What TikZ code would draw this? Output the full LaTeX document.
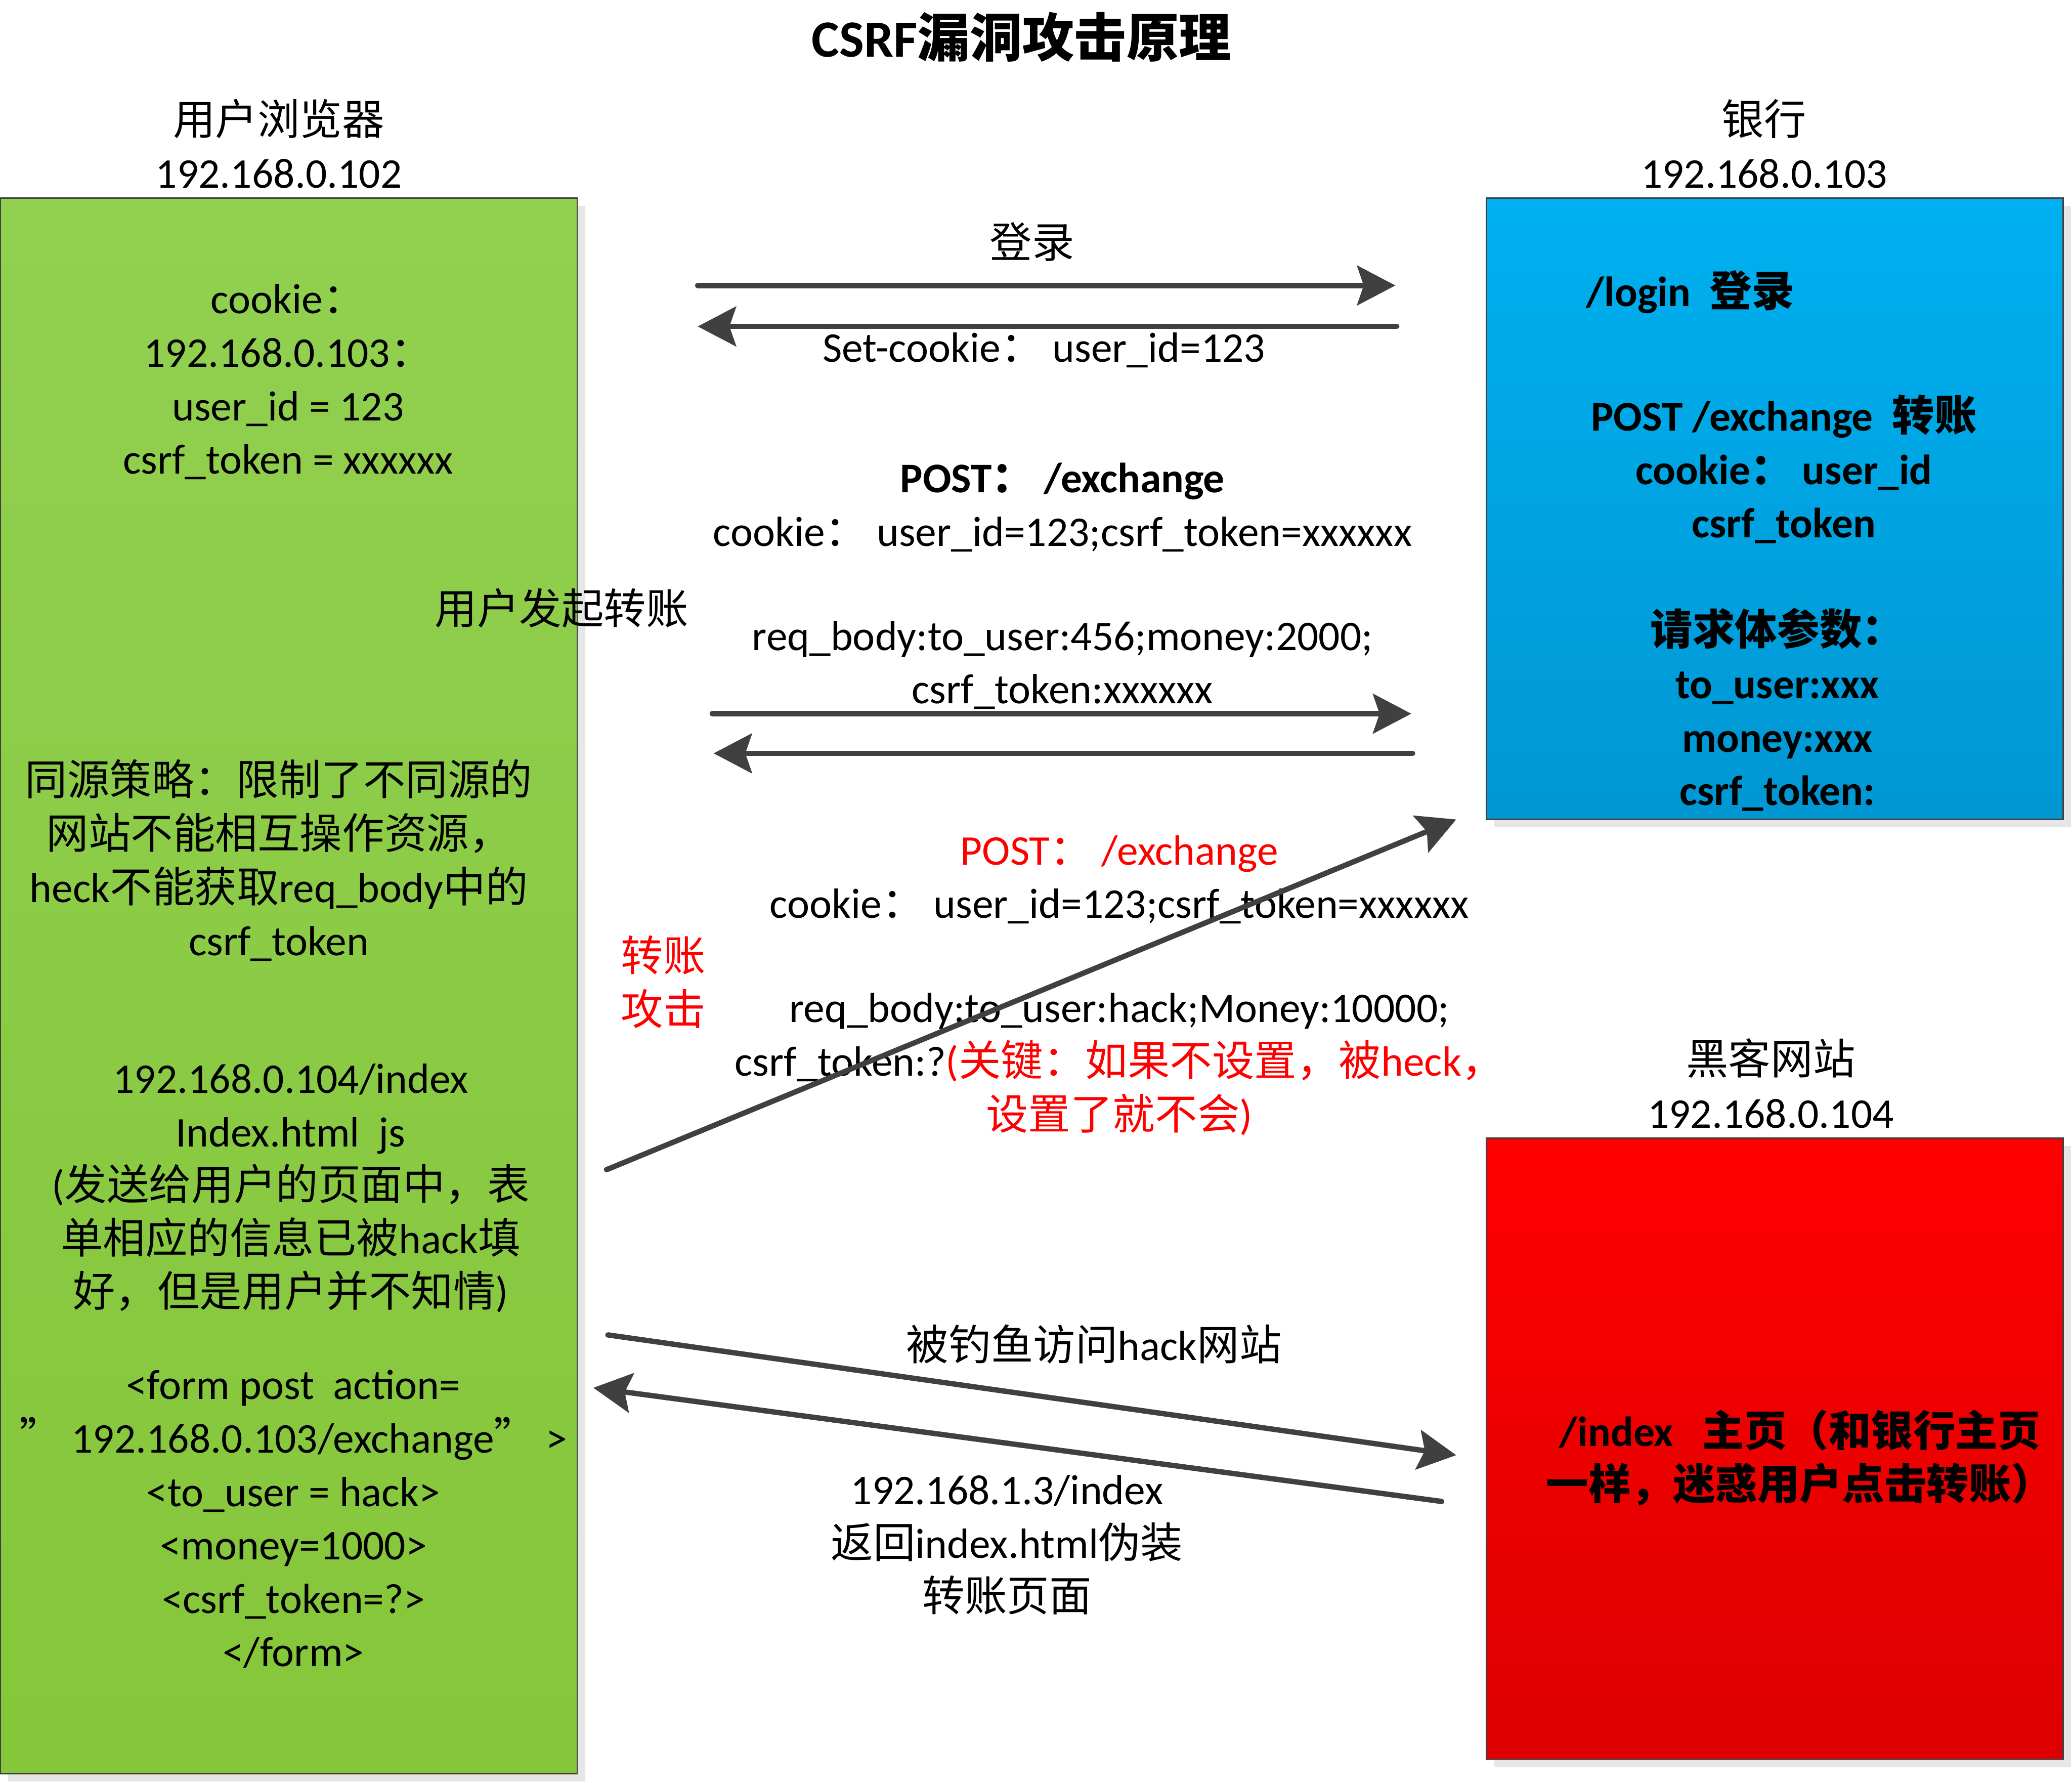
\documentclass[tikz,border=0pt]{standalone}
\usepackage{fontspec}
\setmainfont{Carlito}
\newfontfamily\cjk{Noto Sans CJK SC}
\newcommand{\zh}[1]{{\cjk #1}}
\usetikzlibrary{positioning, arrows.meta, shadows}
\definecolor{csrfGray}{HTML}{404040}
\definecolor{csrfRed}{HTML}{FF0000}
\definecolor{userTop}{HTML}{92D050}
\definecolor{userBot}{HTML}{85C63A}
\definecolor{bankTop}{HTML}{00B0F0}
\definecolor{bankBot}{HTML}{0097D3}
\definecolor{hackTop}{HTML}{FF0000}
\definecolor{hackBot}{HTML}{DC0000}
\definecolor{shadowGray}{HTML}{E6E6E6}

\begin{document}
\begin{tikzpicture}[
  every node/.style={font=\fontsize{18.2}{23}\selectfont, align=center, inner sep=0pt},
  hostbox/.style={
    rectangle, draw=csrfGray, line width=0.6pt,
    minimum width=8.73cm, minimum height=9.4cm,
    drop shadow={shadow xshift=0.12cm, shadow yshift=-0.12cm, fill=shadowGray, opacity=1}
  },
  boldtxt/.style={font=\fontsize{18.2}{23}\selectfont\bfseries},
  msg/.style={
    -{Stealth[length=0.58cm, width=0.6cm, inset=0.1cm]}, csrfGray, line width=2.3pt, line cap=round
  },
]
\useasboundingbox (0,0) rectangle (31.36,26.98);

% Hosts
\node[hostbox, minimum height=23.84cm, top color=userTop, bottom color=userBot] (browser) at (4.37,12.06) {};
\node[hostbox, top color=bankTop, bottom color=bankBot] (bank) at (26.86,19.28) {};
\node[hostbox, top color=hackTop, bottom color=hackBot] (hacker) at (26.86,5.06) {};

\node[font=\fontsize{22.5}{27}\selectfont\bfseries] (title) at (15.46,26.42) {CSRF\zh{漏洞攻击原理}};
\node[anchor=south] (browserlbl) at (4.22,24.12) {\zh{用户浏览器}\\192.168.0.102};
\node[anchor=south] (banklbl) at (26.7,24.12) {\zh{银行}\\192.168.0.103};
\node[anchor=south] (hackerlbl) at (26.8,9.9) {\zh{黑客网站}\\192.168.0.104};

% Browser contents
\node (cookiejar) at (4.36,21.2) {cookie\zh{：}\\192.168.0.103\zh{：}\\user\_id = 123\\csrf\_token = xxxxxx};
\node (sameorigin) at (4.22,13.96) {\zh{同源策略：限制了不同源的}\\\zh{网站不能相互操作资源，}\\heck\zh{不能获取}req\_body\zh{中的}\\csrf\_token};
\node (fakepage) at (4.4,9.0) {192.168.0.104/index\\Index.html\ \ js\\(\zh{发送给用户的页面中，表}\\\zh{单相应的信息已被}hack\zh{填}\\\zh{好，但是用户并不知情})};
\node (formcode) at (4.44,3.99) {<form post\ \ action=\\\zh{”}\ 192.168.0.103/exchange\zh{”}\ >\\<to\_user = hack>\\<money=1000>\\<csrf\_token=?>\\</form>};
\node (transferlbl) at (8.5,17.78) {\zh{用户发起转账}};

% Bank contents
\node[boldtxt, anchor=west] (loginapi) at (24.0,22.56) {/login\ \ \zh{登录}};
\node[boldtxt] (exchangeapi) at (27.0,19.88) {POST /exchange\ \ \zh{转账}\\cookie\zh{：}\ user\_id\\csrf\_token};
\node[boldtxt] (reqparams) at (26.9,16.24) {\zh{请求体参数：}\\to\_user:xxx\\money:xxx\\csrf\_token:};

% Hacker contents
\node[boldtxt] (hackindex) at (27.24,4.92) {/index\ \ \ \zh{主页（和银行主页}\\\zh{一样，迷惑用户点击转账）}};

% Message labels
\node (loginlbl) at (15.62,23.32) {\zh{登录}};
\node (setcookielbl) at (15.8,21.68) {Set-cookie\zh{：}\ user\_id=123};
\node (transfermsg) at (16.08,18.11) {{\bfseries POST\zh{：}\ /exchange}\\cookie\zh{：}\ user\_id=123;csrf\_token=xxxxxx\\[0.77cm]req\_body:to\_user:456;money:2000;\\csrf\_token:xxxxxx};
\node[text=csrfRed] (attacklbl) at (10.04,12.12) {\zh{转账}\\\zh{攻击}};
\node (attackmsg) at (16.94,12.07) {{\color{csrfRed}POST\zh{：}\ /exchange}\\cookie\zh{：}\ user\_id=123;csrf\_token=xxxxxx\\[0.77cm]req\_body:to\_user:hack;Money:10000;\\csrf\_token:?{\color{csrfRed}(\zh{关键：如果不设置，被}heck\zh{，}}\\{\color{csrfRed}\zh{设置了就不会})}};
\node (phishlbl) at (16.56,6.64) {\zh{被钓鱼访问}hack\zh{网站}};
\node (fakereply) at (15.24,3.6) {192.168.1.3/index\\\zh{返回}index.html\zh{伪装}\\\zh{转账页面}};

% Message ends
\coordinate (loginS) at (10.56,22.66);
\coordinate (loginE) at (21.12,22.66);
\coordinate (setckS) at (21.14,22.04);
\coordinate (setckE) at (10.56,22.04);
\coordinate (xferS) at (10.78,16.18);
\coordinate (xferE) at (21.36,16.18);
\coordinate (xferbackS) at (21.38,15.58);
\coordinate (xferbackE) at (10.8,15.58);
\coordinate (forgeS) at (9.18,9.28);
\coordinate (forgeE) at (22.04,14.58);
\coordinate (phishS) at (9.2,6.78);
\coordinate (phishE) at (22.04,4.96);
\coordinate (replyS) at (21.82,4.26);
\coordinate (replyE) at (8.98,5.98);

% Messages
\draw[msg] (loginS) -- (loginE);
\draw[msg] (setckS) -- (setckE);
\draw[msg] (xferS) -- (xferE);
\draw[msg] (xferbackS) -- (xferbackE);
\draw[msg] (forgeS) -- (forgeE);
\draw[msg] (phishS) -- (phishE);
\draw[msg] (replyS) -- (replyE);

\end{tikzpicture}
\end{document}
